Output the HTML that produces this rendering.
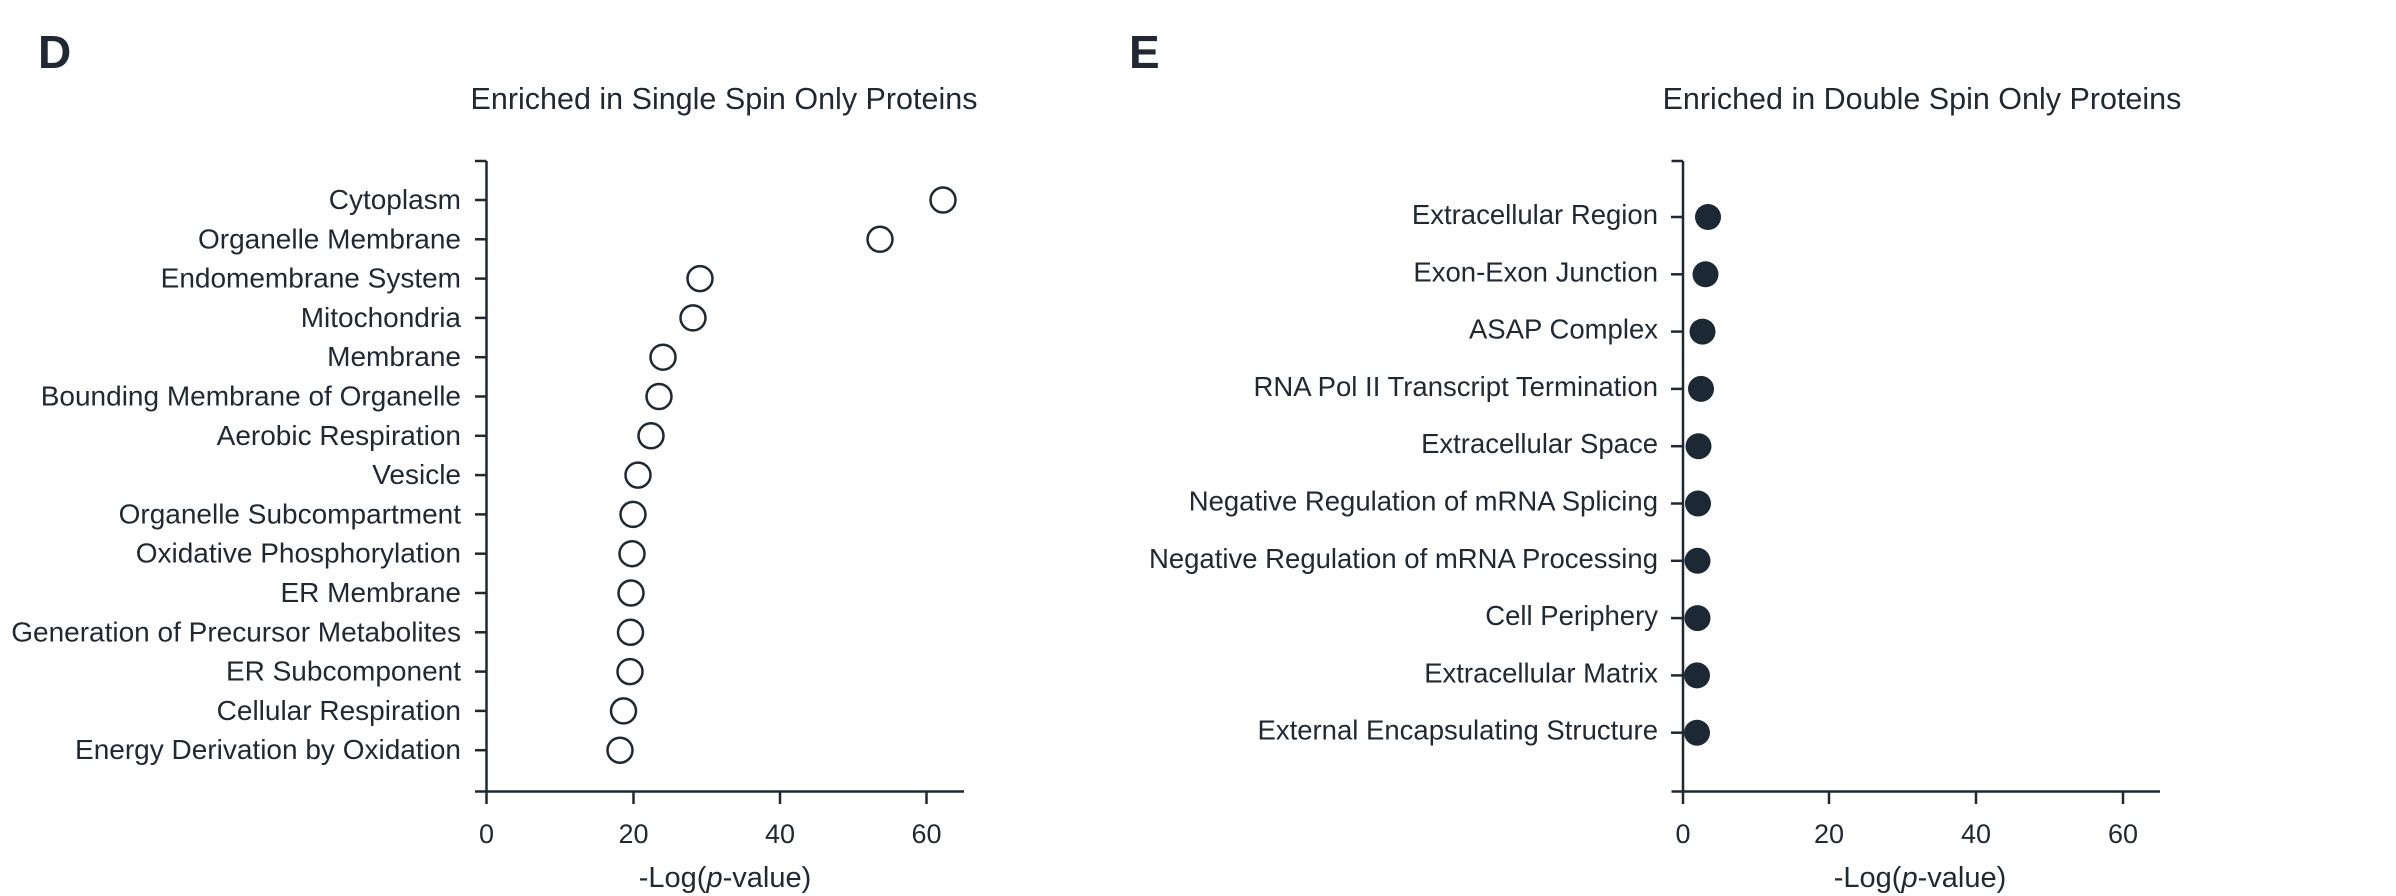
<!DOCTYPE html>
<html><head><meta charset="utf-8"><style>
html,body{margin:0;padding:0;background:#fff;}
svg{display:block;}
text{font-family:"Liberation Sans",sans-serif;fill:#1f2833;}
</style></head><body>
<svg width="2396" height="896" viewBox="0 0 2396 896" xmlns="http://www.w3.org/2000/svg">
<g stroke="#1f2833" stroke-width="2.5" fill="none">
<line x1="486.5" y1="161" x2="486.5" y2="792"/>
<line x1="475" y1="791.5" x2="964" y2="791.5"/>
<line x1="475" y1="161" x2="486.5" y2="161"/>
<line x1="486.5" y1="791" x2="486.5" y2="804"/>
<line x1="633.5" y1="791" x2="633.5" y2="804"/>
<line x1="780" y1="791" x2="780" y2="804"/>
<line x1="926.5" y1="791" x2="926.5" y2="804"/>
<line x1="1683" y1="161" x2="1683" y2="792"/>
<line x1="1671.5" y1="791.5" x2="2160" y2="791.5"/>
<line x1="1671.5" y1="161" x2="1683" y2="161"/>
<line x1="1683" y1="791" x2="1683" y2="804"/>
<line x1="1829" y1="791" x2="1829" y2="804"/>
<line x1="1976" y1="791" x2="1976" y2="804"/>
<line x1="2123" y1="791" x2="2123" y2="804"/>
</g>
<text x="38" y="68" font-size="46" font-weight="bold">D</text>
<text x="1129" y="68" font-size="46" font-weight="bold">E</text>
<text x="724" y="109" font-size="30.5" text-anchor="middle">Enriched in Single Spin Only Proteins</text>
<text x="1922" y="109" font-size="30.5" text-anchor="middle">Enriched in Double Spin Only Proteins</text>
<g font-size="27" text-anchor="middle">
<text x="486.5" y="843">0</text><text x="633.5" y="843">20</text><text x="780" y="843">40</text><text x="926.5" y="843">60</text>
<text x="1683" y="843">0</text><text x="1829" y="843">20</text><text x="1976" y="843">40</text><text x="2123" y="843">60</text>
<text x="725" y="887" font-size="29">-Log(<tspan font-style="italic">p</tspan>-value)</text>
<text x="1920" y="887" font-size="29">-Log(<tspan font-style="italic">p</tspan>-value)</text>
</g>
<g stroke="#1f2833" stroke-width="2.5">
<line x1="475" y1="200" x2="486" y2="200"/><line x1="475" y1="239.3" x2="486" y2="239.3"/><line x1="475" y1="278.6" x2="486" y2="278.6"/><line x1="475" y1="317.9" x2="486" y2="317.9"/><line x1="475" y1="357.2" x2="486" y2="357.2"/><line x1="475" y1="396.5" x2="486" y2="396.5"/><line x1="475" y1="435.8" x2="486" y2="435.8"/><line x1="475" y1="475.1" x2="486" y2="475.1"/><line x1="475" y1="514.4" x2="486" y2="514.4"/><line x1="475" y1="553.7" x2="486" y2="553.7"/><line x1="475" y1="593" x2="486" y2="593"/><line x1="475" y1="632.3" x2="486" y2="632.3"/><line x1="475" y1="671.6" x2="486" y2="671.6"/><line x1="475" y1="710.9" x2="486" y2="710.9"/><line x1="475" y1="750.2" x2="486" y2="750.2"/>
<line x1="1671" y1="217" x2="1683" y2="217"/><line x1="1671" y1="274.3" x2="1683" y2="274.3"/><line x1="1671" y1="331.6" x2="1683" y2="331.6"/><line x1="1671" y1="388.9" x2="1683" y2="388.9"/><line x1="1671" y1="446.2" x2="1683" y2="446.2"/><line x1="1671" y1="503.5" x2="1683" y2="503.5"/><line x1="1671" y1="560.8" x2="1683" y2="560.8"/><line x1="1671" y1="618.1" x2="1683" y2="618.1"/><line x1="1671" y1="675.4" x2="1683" y2="675.4"/><line x1="1671" y1="732.7" x2="1683" y2="732.7"/>
</g>
<g font-size="28" text-anchor="end">
<text x="461" y="209">Cytoplasm</text>
<text x="461" y="248.3">Organelle Membrane</text>
<text x="461" y="287.6">Endomembrane System</text>
<text x="461" y="326.9">Mitochondria</text>
<text x="461" y="366.2">Membrane</text>
<text x="461" y="405.5">Bounding Membrane of Organelle</text>
<text x="461" y="444.8">Aerobic Respiration</text>
<text x="461" y="484.1">Vesicle</text>
<text x="461" y="523.4">Organelle Subcompartment</text>
<text x="461" y="562.7">Oxidative Phosphorylation</text>
<text x="461" y="602">ER Membrane</text>
<text x="461" y="641.3">Generation of Precursor Metabolites</text>
<text x="461" y="680.6">ER Subcomponent</text>
<text x="461" y="719.9">Cellular Respiration</text>
<text x="461" y="759.2">Energy Derivation by Oxidation</text>
</g>
<g font-size="27.5" text-anchor="end">
<text x="1658" y="224">Extracellular Region</text>
<text x="1658" y="281.3">Exon-Exon Junction</text>
<text x="1658" y="338.6">ASAP Complex</text>
<text x="1658" y="395.9">RNA Pol II Transcript Termination</text>
<text x="1658" y="453.2">Extracellular Space</text>
<text x="1658" y="510.5">Negative Regulation of mRNA Splicing</text>
<text x="1658" y="567.8">Negative Regulation of mRNA Processing</text>
<text x="1658" y="625.1">Cell Periphery</text>
<text x="1658" y="682.4">Extracellular Matrix</text>
<text x="1658" y="739.7">External Encapsulating Structure</text>
</g>
<g fill="#fff" stroke="#1f2833" stroke-width="2.5">
<circle cx="943" cy="200" r="12.5"/>
<circle cx="880" cy="239.3" r="12.5"/>
<circle cx="700" cy="278.6" r="12.5"/>
<circle cx="693" cy="317.9" r="12.5"/>
<circle cx="663" cy="357.2" r="12.5"/>
<circle cx="659" cy="396.5" r="12.5"/>
<circle cx="651" cy="435.8" r="12.5"/>
<circle cx="638" cy="475.1" r="12.5"/>
<circle cx="633" cy="514.4" r="12.5"/>
<circle cx="632" cy="553.7" r="12.5"/>
<circle cx="631" cy="593" r="12.5"/>
<circle cx="630.5" cy="632.3" r="12.5"/>
<circle cx="630" cy="671.6" r="12.5"/>
<circle cx="623.5" cy="710.9" r="12.5"/>
<circle cx="620" cy="750.2" r="12.5"/>
</g>
<g fill="#1c2833">
<circle cx="1708" cy="217" r="13"/>
<circle cx="1705.5" cy="274.3" r="13"/>
<circle cx="1702.5" cy="331.6" r="13"/>
<circle cx="1701" cy="388.9" r="13"/>
<circle cx="1698.5" cy="446.2" r="13"/>
<circle cx="1698" cy="503.5" r="13"/>
<circle cx="1697.5" cy="560.8" r="13"/>
<circle cx="1697.5" cy="618.1" r="13"/>
<circle cx="1697" cy="675.4" r="13"/>
<circle cx="1697" cy="732.7" r="13"/>
</g>
</svg>
</body></html>
